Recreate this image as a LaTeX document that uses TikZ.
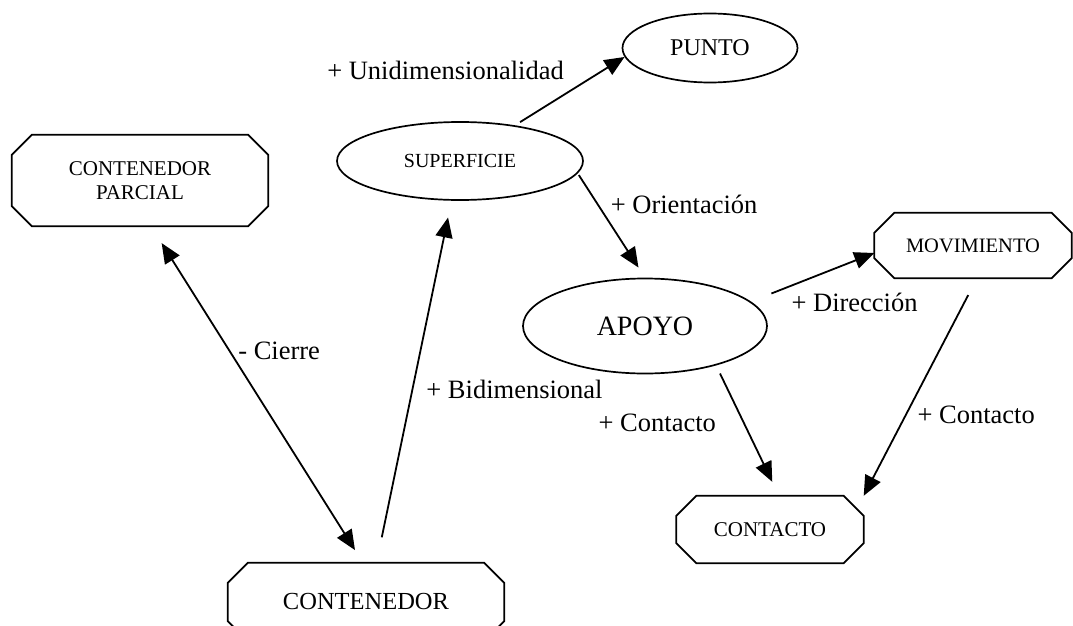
\documentclass[tikz,border=0pt]{standalone}
\usepackage{fontspec}
\setmainfont{Liberation Serif}
\usetikzlibrary{shapes.geometric, arrows.meta}

\begin{document}
\begin{tikzpicture}[x=1pt, y=-1pt,
	oval/.style={ellipse, draw, line width=1.7pt, inner sep=0pt},
	octo/.style={rectangle, inner sep=0pt},
	rel/.style={font=\fontsize{26.5}{30}\selectfont, inner sep=2pt},
	link/.style={line width=1.8pt, >={Triangle[length=20pt, width=17pt]}}]

	% page frame, the bottom box runs off the page
	\clip (0,0) rectangle (1073,626);

	% the concepts
	\node[octo, minimum width=256pt, minimum height=91pt, align=center, font=\fontsize{21}{24}\selectfont] (parcial) at (140,180.5) {CONTENEDOR\\PARCIAL};
	\node[octo, minimum width=276pt, minimum height=78pt, font=\fontsize{24.5}{28}\selectfont] (contenedor) at (366,602) {CONTENEDOR};
	\node[oval, minimum width=246pt, minimum height=78pt, font=\fontsize{20}{24}\selectfont] (superficie) at (460,161) {SUPERFICIE};
	\node[oval, minimum width=175pt, minimum height=69pt, font=\fontsize{24}{28}\selectfont] (punto) at (710,48) {PUNTO};
	\node[oval, minimum width=244pt, minimum height=95pt, font=\fontsize{28}{32}\selectfont] (apoyo) at (645,326) {APOYO};
	\node[octo, minimum width=197pt, minimum height=65pt, font=\fontsize{20.5}{24}\selectfont] (movimiento) at (973,245.5) {MOVIMIENTO};
	\node[octo, minimum width=187pt, minimum height=67pt, font=\fontsize{21}{24}\selectfont] (contacto) at (770,529.5) {CONTACTO};

	% cut corners of the boxes
	\foreach \b in {parcial, contenedor, movimiento, contacto}
		\draw[line width=1.7pt] ([xshift=20pt]\b.north west) -- ([xshift=-20pt]\b.north east) -- ([yshift=-20pt]\b.north east) -- ([yshift=20pt]\b.south east)
			-- ([xshift=-20pt]\b.south east) -- ([xshift=20pt]\b.south west) -- ([yshift=20pt]\b.south west) -- ([yshift=-20pt]\b.north west) -- cycle;

	% the relations between them
	\draw[link, <->, shorten <=20pt, shorten >=15pt] ([xshift=11pt]parcial.south) -- ([xshift=-3pt]contenedor.north) node[rel, pos=.37, right=6pt] (cierre) {- Cierre};
	\draw[link, ->, shorten <=26pt, shorten >=17pt] ([xshift=10.5pt]contenedor.north) -- ([xshift=-8.5pt]superficie.south) node[rel, pos=.48, right=11pt] (bidim) {+ Bidimensional};
	\draw[link, ->, shorten <=6pt] (superficie.33) -- (punto.186) node[rel, pos=.8, left=36pt] (unidim) {+ Unidimensionalidad};
	\draw[link, ->, shorten <=2pt, shorten >=12pt] (superficie.-6) -- (apoyo.north) node[rel, pos=.3, right=10pt] (orient) {+ Orientación};
	\draw[link, ->, shorten <=22pt] (apoyo.13.5) -- ([yshift=-7.5pt]movimiento.west) node[rel, pos=.84, below=29pt] (direc) {+ Dirección};
	\draw[link, ->, shorten <=9pt, shorten >=15.5pt] (apoyo.-29.4) -- ([xshift=9pt]contacto.north) node[rel, pos=.44, left=25pt] (contizq) {+ Contacto};
	\draw[link, ->, shorten <=19pt] ([xshift=4pt]movimiento.south) -- (contacto.north -| contacto.east) node[rel, pos=.63, right=9pt] (contder) {+ Contacto};

\end{tikzpicture}
\end{document}
